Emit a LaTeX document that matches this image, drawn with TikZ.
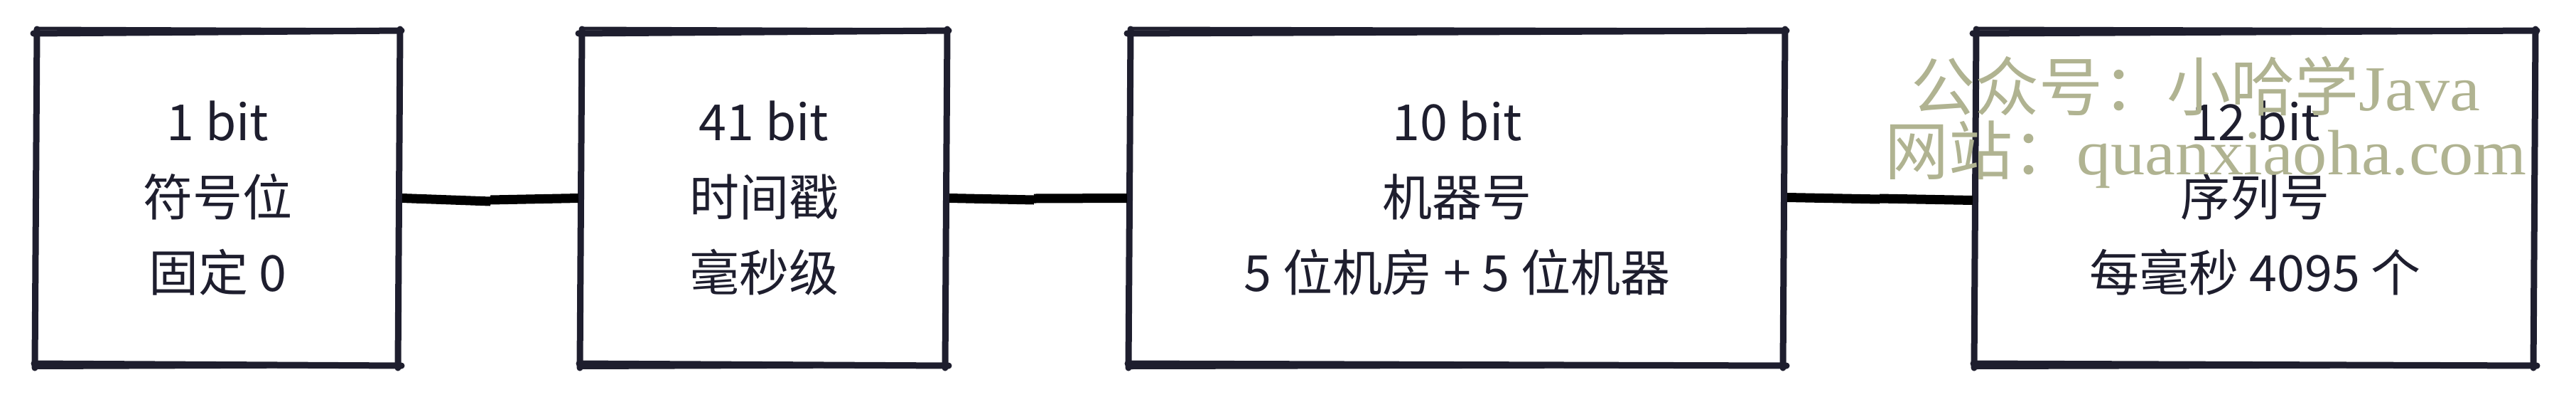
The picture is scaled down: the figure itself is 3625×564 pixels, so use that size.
\documentclass[tikz,border=0pt]{standalone}
\usepackage{fontspec}
\setmainfont{Noto Sans CJK SC}
\newfontfamily\cjk{Noto Sans CJK SC}
\newfontfamily\wmlatin[FakeStretch=1.07]{Liberation Serif}
\definecolor{ink}{RGB}{30,30,46}
\definecolor{wm}{RGB}{176,179,145}
\newcommand\sketchbox[1]{%
  \draw[boxline] ([shift={(-4,3)}]#1.north west) -- ([shift={(3,-1)}]#1.north east);
  \draw[boxline] ([shift={(1,-3)}]#1.north east) -- ([shift={(-2,4)}]#1.south east);
  \draw[boxline] ([shift={(3,1)}]#1.south east) -- ([shift={(-3,-2)}]#1.south west);
  \draw[boxline] ([shift={(-2,4)}]#1.south west) -- ([shift={(1,-3)}]#1.north west);
  \draw[boxline,line width=2.5pt] ([shift={(2,-4)}]#1.north west) -- ([shift={(-3,-2)}]#1.north east);
  \draw[boxline,line width=2pt] ([shift={(3,2)}]#1.south east) -- ([shift={(-2,4)}]#1.south west);
}
\tikzset{
  x=0.5pt, y=-0.5pt,
  bitbox/.style={rectangle, draw=none, outer sep=0pt, inner sep=0pt,
    minimum height=234.5pt, text=ink, align=center,
    font=\fontsize{35}{53}\selectfont},
  boxline/.style={draw=ink, line width=4.5pt, line cap=round},
  link/.style={draw=black, line width=6.5pt, line cap=butt},
  watermark/.style={anchor=base west, inner sep=0pt, outer sep=0pt, text=wm,
    font=\fontsize{45}{50}\selectfont}
}
\begin{document}
\begin{tikzpicture}
\useasboundingbox (0,0) rectangle (3625,564);
\node[bitbox, minimum width=255.5pt] (b1) at (306.5,278.5) {1 bit\\符号位\\固定 0};
\node[bitbox, minimum width=257pt] (b2) at (1075,278.5) {41 bit\\时间戳\\毫秒级};
\node[bitbox, minimum width=460.5pt] (b3) at (2050.5,278.5) {10 bit\\机器号\\5 位机房 + 5 位机器};
\node[bitbox, minimum width=393.5pt] (b4) at (3173.5,278.5) {12 bit\\序列号\\每毫秒 4095 个};
\sketchbox{b1}
\sketchbox{b2}
\sketchbox{b3}
\sketchbox{b4}
\coordinate (m12) at (690,281);
\coordinate (m23) at (1455,279);
\coordinate (m34) at (2645,280);
\draw[link] ([shift={(4,0)}]b1.east) -- ([shift={(0,2)}]m12);
\draw[link] (m12) -- ([shift={(-4,0)}]b2.west);
\draw[link] ([shift={(4,0)}]b2.east) -- ([shift={(0,2)}]m23);
\draw[link] (m23) -- ([shift={(-4,0)}]b3.west);
\draw[link] ([shift={(4,-1)}]b3.east) -- (m34);
\draw[link] ([shift={(0,-1)}]m34) -- ([shift={(-4,3)}]b4.west);
\node[watermark] (wm1) at (2689,155) {\cjk 公众号：小哈学{\wmlatin Java}};
\node[watermark] (wm2) at (2652,245) {\cjk 网站：{\wmlatin quanxiaoha.com}};
\end{tikzpicture}
\end{document}
